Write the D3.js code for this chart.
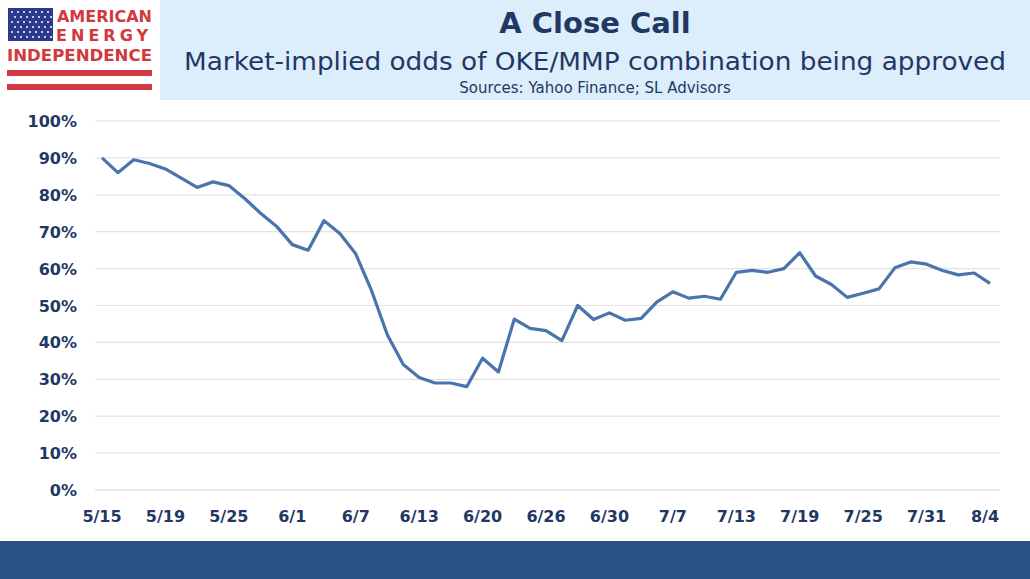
<!DOCTYPE html>
<html><head><meta charset="utf-8">
<script src="https://cdn.jsdelivr.net/npm/d3@7"></script>
<style>body{margin:0;background:#fff}svg{display:block}</style>
</head><body>
<svg id="chart" width="1030" height="579"></svg>
<script>
// market-implied odds, one value per trading day (percent)
const odds = [90,86,89.5,88.5,87,84.5,82,83.5,82.5,79,75,71.5,66.5,65,73,69.5,64,54,42,34,30.5,29,29,28,
  35.7,32,46.3,43.8,43.2,40.5,50,46.2,48,46,46.5,51,53.7,52,52.5,51.7,59,59.5,59,60,64.3,58,55.7,52.2,
  53.3,54.5,60.2,61.8,61.2,59.5,58.3,58.8,56];
const dateLabels = ['5/15','5/19','5/25','6/1','6/7','6/13','6/20','6/26','6/30','7/7','7/13','7/19','7/25','7/31','8/4'];
const yTicks = [0,10,20,30,40,50,60,70,80,90,100];

const svg = d3.select('#chart');
const font = 'Verdana, "DejaVu Sans", sans-serif';

// header
svg.append('rect').attr('x', 160).attr('y', 0).attr('width', 870).attr('height', 100).attr('fill', '#dcedfb');
svg.append('text').attr('x', 595).attr('y', 33).attr('text-anchor', 'middle')
    .attr('font-family', font).attr('font-weight', 700).attr('font-size', 29).attr('fill', '#1f3864')
    .text('A Close Call');
svg.append('text').attr('x', 595).attr('y', 70).attr('text-anchor', 'middle')
    .attr('font-family', font).attr('font-size', 24).attr('fill', '#1f3864')
    .attr('textLength', 822).attr('lengthAdjust', 'spacingAndGlyphs')
    .text('Market-implied odds of OKE/MMP combination being approved');
svg.append('text').attr('x', 595).attr('y', 93).attr('text-anchor', 'middle')
    .attr('font-family', font).attr('font-size', 15).attr('fill', '#1f3864')
    .text('Sources: Yahoo Finance; SL Advisors');

// logo
const logo = svg.append('g');
logo.append('rect').attr('x', 8).attr('y', 8).attr('width', 45).attr('height', 33).attr('fill', '#2b3a8c');
for (let r = 0; r < 6; r++) for (let c = 0; c < 7; c++)
    logo.append('circle').attr('cx', 12 + c * 6 + (r % 2) * 3).attr('cy', 12 + r * 5).attr('r', 1).attr('fill', '#fff');
logo.append('text').attr('x', 152).attr('y', 22).attr('text-anchor', 'end').attr('font-family', font)
    .attr('font-weight', 700).attr('font-size', 16).attr('fill', '#d0393e').text('AMERICAN');
logo.append('text').attr('x', 152).attr('y', 41).attr('text-anchor', 'end').attr('font-family', font)
    .attr('font-weight', 700).attr('font-size', 16).attr('letter-spacing', 4).attr('fill', '#d0393e').text('ENERGY');
logo.append('text').attr('x', 7).attr('y', 61).attr('font-family', font).attr('font-weight', 700)
    .attr('font-size', 15).attr('fill', '#d0393e').attr('textLength', 145).attr('lengthAdjust', 'spacingAndGlyphs')
    .text('INDEPENDENCE');
logo.append('rect').attr('x', 7).attr('y', 70).attr('width', 145).attr('height', 6).attr('fill', '#d0393e');
logo.append('rect').attr('x', 7).attr('y', 84).attr('width', 145).attr('height', 6).attr('fill', '#d0393e');

// footer bar
svg.append('rect').attr('x', 0).attr('y', 541).attr('width', 1030).attr('height', 38).attr('fill', '#2a5286');

// scales
const x = d3.scaleLinear().domain([0, odds.length - 1]).range([102, 990]);
const y = d3.scaleLinear().domain([0, 100]).range([490, 121]);

svg.append('g').selectAll('line').data(yTicks.filter(d => d > 0)).join('line')
    .attr('x1', 95).attr('x2', 1000).attr('y1', d => y(d)).attr('y2', d => y(d))
    .attr('stroke', '#e3e3e3').attr('stroke-width', 1.2);
svg.append('line').attr('x1', 95).attr('x2', 1000).attr('y1', y(0)).attr('y2', y(0))
    .attr('stroke', '#d0d0d0').attr('stroke-width', 1.2);

svg.append('g').selectAll('text').data(yTicks).join('text')
    .attr('x', 77).attr('y', d => y(d) + 6).attr('text-anchor', 'end')
    .attr('font-family', font).attr('font-weight', 700).attr('font-size', 16).attr('fill', '#1f3864')
    .text(d => d + '%');
svg.append('g').selectAll('text').data(dateLabels).join('text')
    .attr('x', (d, i) => x(i * 4) - (i === dateLabels.length - 1 ? 5 : 0)).attr('y', 522).attr('text-anchor', 'middle')
    .attr('font-family', font).attr('font-weight', 700).attr('font-size', 16).attr('fill', '#1f3864')
    .text(d => d);

svg.append('path').datum(odds)
    .attr('d', d3.line().x((d, i) => x(i)).y(d => y(d)))
    .attr('fill', 'none').attr('stroke', '#4a74ac').attr('stroke-width', 3.2).attr('stroke-linejoin', 'round');
</script>
</body></html>
